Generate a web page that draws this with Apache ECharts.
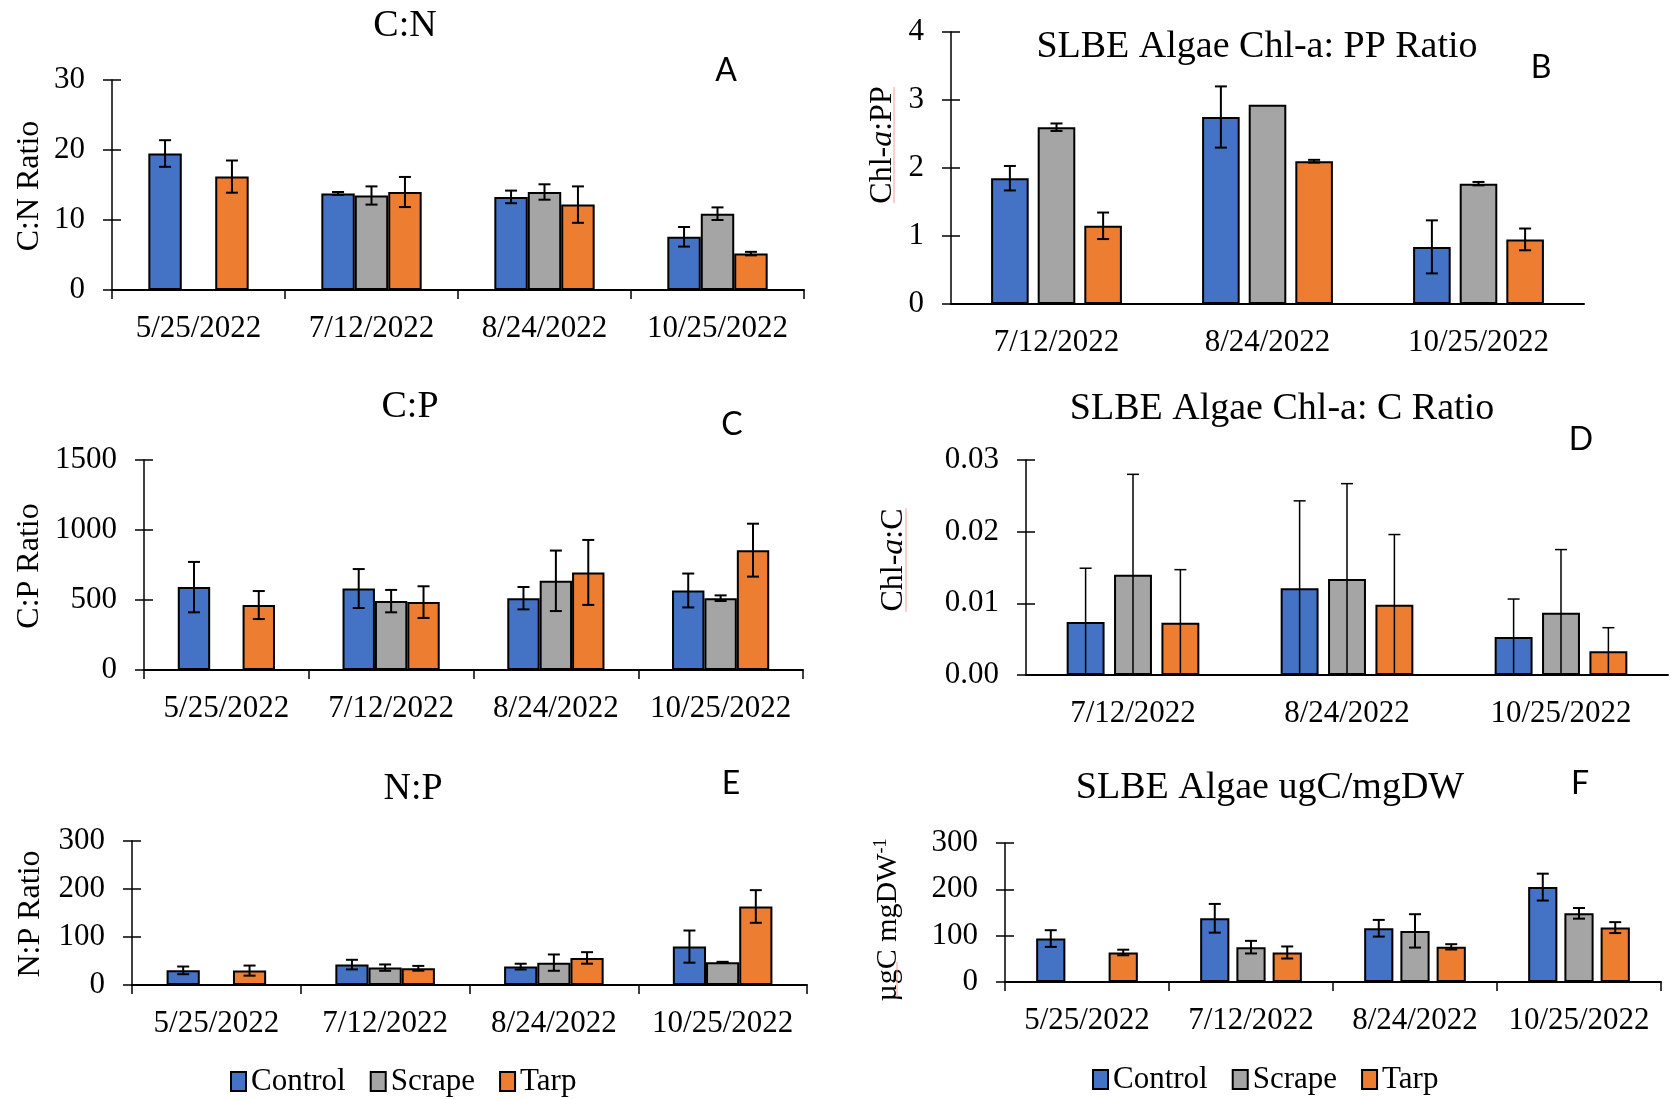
<!DOCTYPE html>
<html>
<head>
<meta charset="utf-8">
<script src="https://cdn.jsdelivr.net/npm/echarts@6/dist/echarts.min.js"></script>
<style>
  html, body { margin: 0; padding: 0; background: #fff; }
  #chart { width: 1671px; height: 1099px; }
</style>
</head>
<body>
<div id="chart"></div>
<script>
// Sampling dates
const datesAll = ['5/25/2022', '7/12/2022', '8/24/2022', '10/25/2022'];
const datesLate = ['7/12/2022', '8/24/2022', '10/25/2022'];

// A: C:N ratio (mean, ± error)
const cnControl = [19.5, 13.8, 13.3, 7.6];
const cnControlErr = [1.9, 0.2, 0.9, 1.4];
const cnScrape = [null, 13.5, 14.0, 10.9];
const cnScrapeErr = [null, 1.3, 1.1, 0.9];
const cnTarp = [16.2, 14.0, 12.2, 5.2];
const cnTarpErr = [2.3, 2.15, 2.6, 0.25];

// B: Chl-a : PP
const ppControl = [1.85, 2.75, 0.84];
const ppControlErr = [0.18, 0.45, 0.39];
const ppScrape = [2.60, 2.93, 1.77];
const ppScrapeErr = [0.055, 0, 0.025];
const ppTarp = [1.15, 2.10, 0.95];
const ppTarpErr = [0.195, 0.02, 0.16];

// C: C:P ratio
const cpControl = [592, 582, 513, 568];
const cpControlErr = [180, 139, 80, 121];
const cpScrape = [0, 492, 637, 513];
const cpScrapeErr = [null, 80, 216, 20];
const cpTarp = [464, 485, 697, 856];
const cpTarpErr = [100, 113, 232, 189];

// D: Chl-a : C
const chlcControl = [0.0074, 0.0121, 0.0053];
const chlcControlErr = [0.0075, 0.0122, 0.0053];
const chlcScrape = [0.0140, 0.0134, 0.0087];
const chlcScrapeErr = [0.0140, 0.0133, 0.0088];
const chlcTarp = [0.0073, 0.0098, 0.0033];
const chlcTarpErr = [0.0074, 0.0098, 0.0033];

// E: N:P ratio
const npControl = [30.5, 42.5, 38.3, 80];
const npControlErr = [8, 10, 6, 33.5];
const npScrape = [0, 36.2, 46.6, 47.3];
const npScrapeErr = [null, 6.6, 17, 1];
const npTarp = [30, 34.8, 56.4, 163.6];
const npTarpErr = [10.5, 5, 12, 34];

// F: ugC per mg dry weight
const ugcControl = [93.8, 137.5, 116, 204.8];
const ugcControlErr = [18, 31, 18, 29];
const ugcScrape = [null, 75.2, 110.3, 148.2];
const ugcScrapeErr = [null, 13.6, 36, 11.5];
const ugcTarp = [63.7, 63.7, 75.9, 117.4];
const ugcTarpErr = [6, 13, 5.7, 11.8];

const treatments = ['Control', 'Scrape', 'Tarp'];
const COLORS = ['#4472C4', '#A5A5A5', '#ED7D31'];
const SERIF = '"Liberation Serif", "Times New Roman", serif';
const SANS = 'Lato, "Open Sans", sans-serif';

const panels = [
  { cats: datesAll, grid: { left: 112, top: 80, width: 692, height: 210 }, max: 30, interval: 10,
    catGap: 0.42, barGap: 0, xTicks: true, errWidth: 2, decimals: 0,
    data: [[cnControl, cnControlErr], [cnScrape, cnScrapeErr], [cnTarp, cnTarpErr]] },
  { cats: datesLate, grid: { left: 951, top: 32, width: 633, height: 272 }, max: 4, interval: 1,
    catGap: 0.38, barGap: 0.24, xTicks: false, errWidth: 2, decimals: 0,
    data: [[ppControl, ppControlErr], [ppScrape, ppScrapeErr], [ppTarp, ppTarpErr]] },
  { cats: datesAll, grid: { left: 144, top: 460, width: 659, height: 210 }, max: 1500, interval: 500,
    catGap: 0.41, barGap: 0, xTicks: true, errWidth: 2, decimals: 0,
    data: [[cpControl, cpControlErr], [cpScrape, cpScrapeErr], [cpTarp, cpTarpErr]] },
  { cats: datesLate, grid: { left: 1026, top: 460, width: 642, height: 215 }, max: 0.03, interval: 0.01,
    catGap: 0.38, barGap: 0.25, xTicks: false, errWidth: 1.5, decimals: 2,
    data: [[chlcControl, chlcControlErr], [chlcScrape, chlcScrapeErr], [chlcTarp, chlcTarpErr]] },
  { cats: datesAll, grid: { left: 132, top: 841, width: 675, height: 144 }, max: 300, interval: 100,
    catGap: 0.41, barGap: 0, xTicks: true, errWidth: 2, decimals: 0,
    data: [[npControl, npControlErr], [npScrape, npScrapeErr], [npTarp, npTarpErr]] },
  { cats: datesAll, grid: { left: 1005, top: 843, width: 656, height: 139 }, max: 300, interval: 100,
    catGap: 0.38, barGap: 0.24, xTicks: true, errWidth: 2, decimals: 0,
    data: [[ugcControl, ugcControlErr], [ugcScrape, ugcScrapeErr], [ugcTarp, ugcTarpErr]] }
];

// Error bar drawn at the centre of bar k inside its category group
function errorRenderer(k, catGap, barGap, lw) {
  return function (params, api) {
    const cat = api.value(0), v = api.value(1), e = api.value(2);
    const band = api.size([1, 0])[0];
    const groupW = band * (1 - catGap);
    const w = groupW / (3 + 2 * barGap);
    const cx = api.coord([cat, 0])[0] - groupW / 2 + w / 2 + k * w * (1 + barGap);
    const lo = v - e;
    const yTop = api.coord([cat, v + e])[1];
    const yBot = api.coord([cat, Math.max(lo, 0)])[1];
    const cap = 6;
    const st = { stroke: '#000', lineWidth: lw };
    const children = [
      { type: 'line', shape: { x1: cx, y1: yTop, x2: cx, y2: yBot }, style: st },
      { type: 'line', shape: { x1: cx - cap, y1: yTop, x2: cx + cap, y2: yTop }, style: st }
    ];
    if (lo > 0) {
      children.push({ type: 'line', shape: { x1: cx - cap, y1: yBot, x2: cx + cap, y2: yBot }, style: st });
    }
    return { type: 'group', children: children };
  };
}

const grids = [], xAxes = [], yAxes = [], yInner = [], series = [];
panels.forEach(function (p, i) {
  grids.push(Object.assign({ containLabel: false }, p.grid));
  xAxes.push({
    type: 'category', gridIndex: i, data: p.cats,
    axisLine: { lineStyle: { color: '#000', width: 2 } },
    axisTick: { show: p.xTicks, length: 9, lineStyle: { color: '#000', width: 1.5 } },
    axisLabel: { fontFamily: SERIF, fontSize: 31, color: '#000', margin: 23, interval: 0 },
    splitLine: { show: false }
  });
  yAxes.push({
    type: 'value', gridIndex: i, position: 'left', min: 0, max: p.max, interval: p.interval,
    axisLine: { show: true, lineStyle: { color: '#000', width: 1.5 } },
    axisTick: { show: true, length: 9, lineStyle: { color: '#000', width: 1.5 } },
    axisLabel: {
      fontFamily: SERIF, fontSize: 31, color: '#000', margin: 27,
      formatter: function (v) { return v.toFixed(p.decimals); }
    },
    splitLine: { show: false }
  });
  // inward half of the crossing tick marks
  yInner.push({
    type: 'value', gridIndex: i, position: 'left', offset: 0, min: 0, max: p.max, interval: p.interval,
    axisLine: { show: false }, axisLabel: { show: false }, splitLine: { show: false },
    axisTick: { show: true, inside: true, length: 9, lineStyle: { color: '#000', width: 1.5 } }
  });
  p.data.forEach(function (pair, k) {
    const vals = pair[0], errs = pair[1];
    series.push({
      type: 'bar', name: treatments[k], xAxisIndex: i, yAxisIndex: i,
      barCategoryGap: Math.round(p.catGap * 100) + '%',
      barGap: Math.round(p.barGap * 100) + '%',
      data: vals.map(function (v) { return v == null ? '-' : v; }),
      itemStyle: { color: COLORS[k], borderColor: '#000', borderWidth: 2 },
      emphasis: { disabled: true },
      z: 2
    });
    const errData = [];
    vals.forEach(function (v, j) {
      if (v != null && errs[j] != null && errs[j] > 0) errData.push([j, v, errs[j]]);
    });
    series.push({
      type: 'custom', name: treatments[k] + ' error', xAxisIndex: i, yAxisIndex: i,
      renderItem: errorRenderer(k, p.catGap, p.barGap, p.errWidth),
      encode: { x: 0, y: 1 },
      data: errData, clip: true, z: 5, silent: true
    });
  });
});

function label(x, y, text, font) {
  return {
    type: 'text', x: x, y: y, silent: true,
    style: { text: text, font: font, fill: '#000', align: 'center', verticalAlign: 'middle' }
  };
}
function yName(x, y, text) {
  return {
    type: 'text', x: x, y: y, rotation: Math.PI / 2, silent: true,
    style: { text: text, rich: nameRich, fill: '#000', align: 'center', verticalAlign: 'middle',
             font: '32px ' + SERIF }
  };
}
const nameRich = {
  n: { fontFamily: SERIF, fontSize: 32, fill: '#000' },
  m: { fontFamily: SERIF, fontSize: 30, fill: '#000' },
  i: { fontFamily: SERIF, fontSize: 32, fontStyle: 'italic', fill: '#000' },
  sup: { fontFamily: SERIF, fontSize: 18, fill: '#000', verticalAlign: 'top', padding: [0, 0, 14, 0] }
};
const TITLE_FONT = '38px ' + SERIF;
const LETTER_FONT = '32px ' + SANS;
// faint proofing underlines next to the axis titles
const redLine = function (x, y1, y2) {
  return { type: 'line', silent: true, shape: { x1: x, y1: y1, x2: x, y2: y2 },
           style: { stroke: '#f0a0a0', lineWidth: 1 } };
};

const graphics = [
  label(405, 26, 'C:N', TITLE_FONT),
  label(1257, 47, 'SLBE Algae Chl-a: PP Ratio', TITLE_FONT),
  label(410, 407, 'C:P', TITLE_FONT),
  label(1282, 409, 'SLBE Algae Chl-a: C Ratio', TITLE_FONT),
  label(413, 789, 'N:P', TITLE_FONT),
  label(1270, 788, 'SLBE Algae ugC/mgDW', TITLE_FONT),
  label(726, 71, 'A', LETTER_FONT),
  label(1541, 68, 'B', LETTER_FONT),
  label(732, 425, 'C', LETTER_FONT),
  label(1581, 440, 'D', LETTER_FONT),
  label(731, 784, 'E', LETTER_FONT),
  label(1580, 784, 'F', LETTER_FONT),
  yName(30, 186, '{n|C:N Ratio}'),
  yName(883, 145, '{n|Chl-}{i|a}{n|:PP}'),
  yName(30, 566, '{n|C:P Ratio}'),
  yName(894, 560, '{n|Chl-}{i|a}{n|:C}'),
  yName(31, 914, '{n|N:P Ratio}'),
  yName(888, 920, '{m|µgC mgDW}{sup|-1}'),
  redLine(894, 87, 203),
  redLine(906, 508, 612),
  redLine(897, 962, 997)
];

const legendBase = {
  data: treatments, orient: 'horizontal', padding: 0,
  itemWidth: 15, itemHeight: 19, itemGap: 24, icon: 'rect',
  itemStyle: { borderColor: '#000', borderWidth: 2 },
  textStyle: { fontFamily: SERIF, fontSize: 31, color: '#000' },
  selectedMode: false
};

const chart = echarts.init(document.getElementById('chart'), null, { renderer: 'canvas' });
chart.setOption({
  backgroundColor: '#fff',
  animation: false,
  grid: grids,
  xAxis: xAxes,
  yAxis: yAxes.concat(yInner),
  series: series,
  legend: [
    Object.assign({ left: 230, top: 1066 }, legendBase),
    Object.assign({ left: 1092, top: 1064 }, legendBase)
  ],
  graphic: graphics
});
</script>
</body>
</html>
